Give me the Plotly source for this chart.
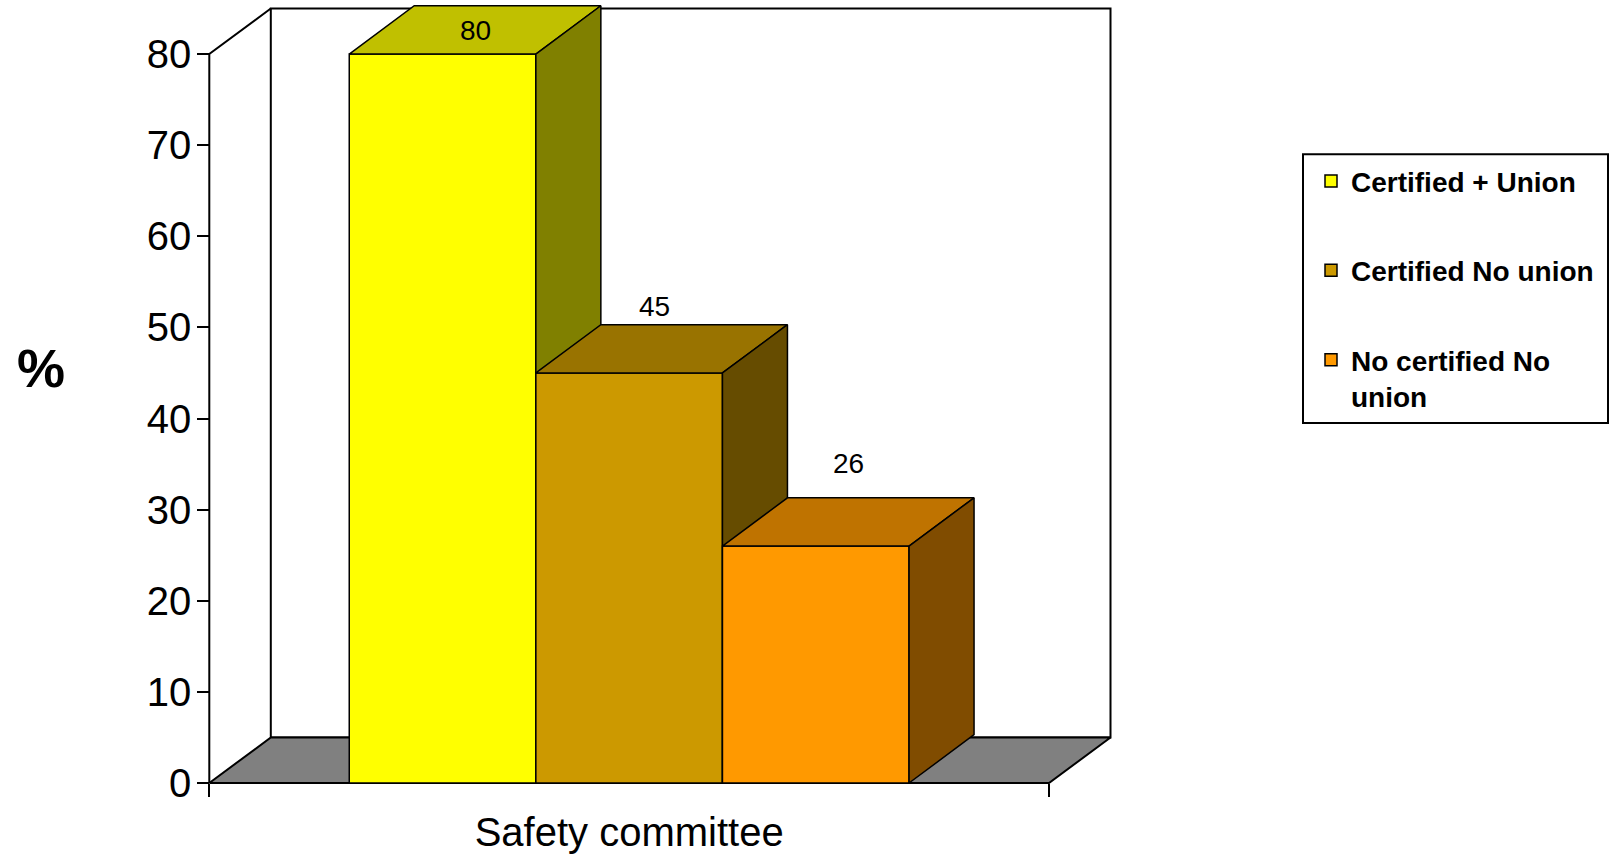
import plotly.graph_objects as go

# ---------------- data ----------------
CATEGORIES = ["Safety committee"]
SERIES = ["Certified + Union", "Certified No union", "No certified No<br>union"]
VALUES = [80, 45, 26]
Y_TICKS = [0, 10, 20, 30, 40, 50, 60, 70, 80]
Y_MAX = 80

# ---------------- style ----------------
FRONT = ["#FFFF00", "#CC9900", "#FF9900"]
TOP = ["#C0C000", "#997300", "#BF7300"]
SIDE = ["#808000", "#664C00", "#804C00"]
FONT = "Arial, Liberation Sans, sans-serif"

W, H = 1612, 854
X_PX = 839.7          # pixels per category unit
Y_PX = 9.155          # pixels per value unit
X0_PX, Y0_PX = 209.3, 786.7   # pixel position of the origin
XR = [-X0_PX / X_PX, (W - X0_PX) / X_PX]
YR = [-(H - Y0_PX) / Y_PX, Y0_PX / Y_PX]

WALL_DX, WALL_DY = 61.5 / X_PX, 5.0
BAR_DX, BAR_DY = 65 / X_PX, 5.3
GAP = 1 / 6
BW = (1 - 2 * GAP) / len(VALUES)
LBL_XSHIFT = [0, -7, 0]
LBL_YSHIFT = [-24.5, 18, 34]

fig = go.Figure()

# back wall
fig.add_trace(go.Scatter(
    x=[WALL_DX, 1 + WALL_DX, 1 + WALL_DX, WALL_DX, WALL_DX],
    y=[WALL_DY, WALL_DY, Y_MAX + WALL_DY, Y_MAX + WALL_DY, WALL_DY],
    mode="lines", fill="toself", fillcolor="white",
    line=dict(color="black", width=2), showlegend=False, hoverinfo="skip"))
# floor
fig.add_trace(go.Scatter(
    x=[0, 1, 1 + WALL_DX, WALL_DX, 0],
    y=[0, 0, WALL_DY, WALL_DY, 0],
    mode="lines", fill="toself", fillcolor="#808080",
    line=dict(color="black", width=2), showlegend=False, hoverinfo="skip"))
# front axis line / side wall edge
fig.add_trace(go.Scatter(
    x=[0, 0, WALL_DX], y=[0, Y_MAX, Y_MAX + WALL_DY],
    mode="lines", line=dict(color="black", width=2),
    showlegend=False, hoverinfo="skip"))

annotations = []
for i, v in enumerate(VALUES):
    xa, ya = f"x{i + 2}", f"y{i + 2}"
    x0 = GAP + i * BW
    x1 = x0 + BW
    fig.add_trace(go.Bar(
        x=[x0 + BW / 2], y=[v], width=[BW], name=SERIES[i],
        marker=dict(color=FRONT[i], line=dict(color="black", width=1.5)),
        xaxis=xa, yaxis=ya, legendgroup=str(i), hoverinfo="skip"))
    fig.add_trace(go.Scatter(
        x=[x0, x1, x1 + BAR_DX, x0 + BAR_DX, x0],
        y=[v, v, v + BAR_DY, v + BAR_DY, v],
        mode="lines", fill="toself", fillcolor=TOP[i],
        line=dict(color="black", width=1.5),
        xaxis=xa, yaxis=ya, showlegend=False, hoverinfo="skip"))
    fig.add_trace(go.Scatter(
        x=[x1, x1 + BAR_DX, x1 + BAR_DX, x1, x1],
        y=[0, BAR_DY, v + BAR_DY, v, 0],
        mode="lines", fill="toself", fillcolor=SIDE[i],
        line=dict(color="black", width=1.5),
        xaxis=xa, yaxis=ya, showlegend=False, hoverinfo="skip"))
    annotations.append(dict(
        x=x0 + BW / 2 + BAR_DX / 2, y=v + BAR_DY, xref="x", yref="y",
        text=str(v), showarrow=False, xshift=LBL_XSHIFT[i], yshift=LBL_YSHIFT[i],
        font=dict(family=FONT, size=28, color="black")))

annotations.append(dict(
    x=41 / W, y=1 - 370 / H, xref="paper", yref="paper", text="<b>%</b>",
    xanchor="center", yanchor="middle",
    showarrow=False, font=dict(family=FONT, size=54, color="black")))

layout = dict(
    width=W, height=H, margin=dict(l=0, r=0, t=0, b=0),
    paper_bgcolor="white", plot_bgcolor="white",
    font=dict(family=FONT, color="black"),
    xaxis=dict(range=XR, domain=[0, 1], anchor="free", position=(H - Y0_PX) / H,
               tickmode="array", tickvals=[0.5], ticktext=CATEGORIES, ticks="",
               tickfont=dict(size=40, family=FONT, color="black"),
               ticklabelstandoff=22,
               minor=dict(tickmode="array", tickvals=[0, 1], ticks="outside",
                          ticklen=13, tickwidth=2, tickcolor="black"),
               showgrid=False, zeroline=False, showline=False, fixedrange=True),
    yaxis=dict(range=YR, domain=[0, 1], anchor="free", position=X0_PX / W,
               tickmode="array", tickvals=Y_TICKS, ticks="outside",
               ticklen=12, tickwidth=2, tickcolor="black",
               tickfont=dict(size=40, family=FONT, color="black"),
               ticklabelstandoff=-2,
               showgrid=False, zeroline=False, showline=False, fixedrange=True),
    showlegend=True,
    legend=dict(x=1311 / W, y=1 - 157 / H, xanchor="left", yanchor="top",
                bgcolor="rgba(0,0,0,0)", borderwidth=0,
                font=dict(family=FONT, size=28, color="black", weight="bold"),
                tracegroupgap=50, valign="top", traceorder="grouped"),
    shapes=[dict(type="rect", xref="paper", yref="paper",
                 x0=1303 / W, x1=1608 / W, y0=1 - 425 / H, y1=1 - 155 / H,
                 line=dict(color="black", width=2))],
    annotations=annotations,
    barmode="overlay",
)
for k in range(2, len(VALUES) + 2):
    layout[f"xaxis{k}"] = dict(range=XR, overlaying="x", anchor=f"y{k}", visible=False,
                               fixedrange=True)
    layout[f"yaxis{k}"] = dict(range=YR, overlaying="y", anchor=f"x{k}", visible=False,
                               fixedrange=True)
fig.update_layout(**layout)
fig.write_html("out.html", config={"displayModeBar": False},
               post_script="document.body.style.margin='0';")
